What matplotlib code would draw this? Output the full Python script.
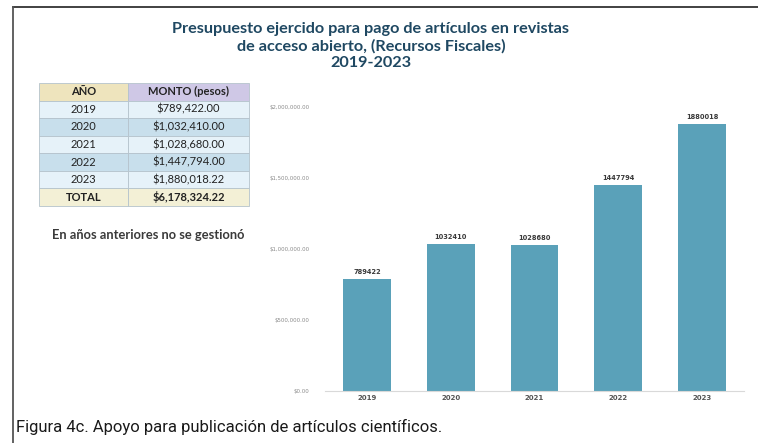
import matplotlib
matplotlib.use("Agg")
import matplotlib.pyplot as plt
from matplotlib.lines import Line2D
from matplotlib.ticker import FuncFormatter

# --- data ---
years = ["2019", "2020", "2021", "2022", "2023"]
montos = [789422.00, 1032410.00, 1028680.00, 1447794.00, 1880018.22]
y_ticks = [0, 500000, 1000000, 1500000, 2000000]

title_lines = ["Presupuesto ejercido para pago de artículos en revistas",
               "de acceso abierto, (Recursos Fiscales)",
               "2019-2023"]
note_text = "En años anteriores no se gestionó"
caption_text = "Figura 4c. Apoyo para publicación de artículos científicos."

W, H = 758, 443
fig = plt.figure(figsize=(W / 100, H / 100), dpi=100)
fig.patch.set_facecolor("white")


def fx(px):
    return px / W


def fy(py):
    return 1 - py / H


# frame lines (top and left)
fig.add_artist(Line2D([fx(13), 1.0], [fy(7), fy(7)], color="#333333", lw=1.3,
                      transform=fig.transFigure))
fig.add_artist(Line2D([fx(13), fx(13)], [fy(7), 0.0], color="#555555", lw=1.3,
                      transform=fig.transFigure))

# title
title_font = ["Lato", "DejaVu Sans"]
title_pos = [(371, 29), (371, 46), (371, 63)]
for line, (px, py) in zip(title_lines, title_pos):
    fig.text(fx(px), fy(py), line, ha="center", va="center",
             fontsize=11.7, fontweight="bold", color="#1f4862", family=title_font)

# --- bar chart ---
ax = fig.add_axes([fx(325), fy(391), fx(744) - fx(325), fy(107) - fy(391)])
x = range(len(years))
bars = ax.bar(x, montos, width=0.57, color="#5aa1b9")
ax.bar_label(bars, labels=[f"{int(v)}" for v in montos], padding=3,
             fontsize=4.8, color="#3a3a3a", fontweight="bold")
ax.set_xlim(-0.5, len(years) - 0.5)
ax.set_ylim(0, 2000000)
ax.set_xticks(list(x))
ax.set_xticklabels(years, fontsize=5, color="#555555", fontweight="bold")
ax.set_yticks(y_ticks)
ax.yaxis.set_major_formatter(FuncFormatter(lambda v, p: f"${v:,.2f}"))
ax.tick_params(axis="y", length=0, pad=11, labelsize=3.9, labelcolor="#8a8a8a")
ax.tick_params(axis="x", length=0, pad=3)
for s in ["top", "right", "left"]:
    ax.spines[s].set_visible(False)
ax.spines["bottom"].set_color("#d9d9d9")
ax.spines["bottom"].set_linewidth(0.8)
ax.set_facecolor("none")

# --- summary table ---
tax = fig.add_axes([fx(39), fy(206), fx(249) - fx(39), fy(83) - fy(206)])
tax.axis("off")
total = sum(montos)
cells = [[y, f"${v:,.2f}"] for y, v in zip(years, montos)]
cells.append(["TOTAL", f"${total:,.2f}"])
tbl = tax.table(cellText=cells, colLabels=["AÑO", "MONTO (pesos)"],
                cellLoc="center", colWidths=[0.425, 0.575],
                bbox=[0, 0, 1, 1])
tbl.auto_set_font_size(False)
row_colors = ["#e6f2f9", "#c8dfec"]
for (r, c), cell in tbl.get_celld().items():
    cell.set_edgecolor("#b5c3cc")
    cell.set_linewidth(0.6)
    txt = cell.get_text()
    txt.set_fontsize(8)
    txt.set_color("#222222")
    txt.set_family(["Lato", "DejaVu Sans"])
    if r == 0:
        cell.set_facecolor("#eee4bd" if c == 0 else "#cfc8e6")
        txt.set_fontweight("bold")
    elif r == len(cells):
        cell.set_facecolor("#f3f0d6")
        txt.set_fontweight("bold")
    else:
        cell.set_facecolor(row_colors[(r - 1) % 2])

# note under the table
fig.text(fx(52), fy(235), note_text, ha="left", va="center", fontsize=9.3,
         fontweight="bold", color="#3a3a3a", family=["Lato", "DejaVu Sans"])

# caption
fig.text(fx(16), fy(427), caption_text, ha="left", va="center", fontsize=12,
         color="#1a1a1a", family=["Roboto", "DejaVu Sans"])

fig.savefig("out.png", dpi=100, facecolor="white")
